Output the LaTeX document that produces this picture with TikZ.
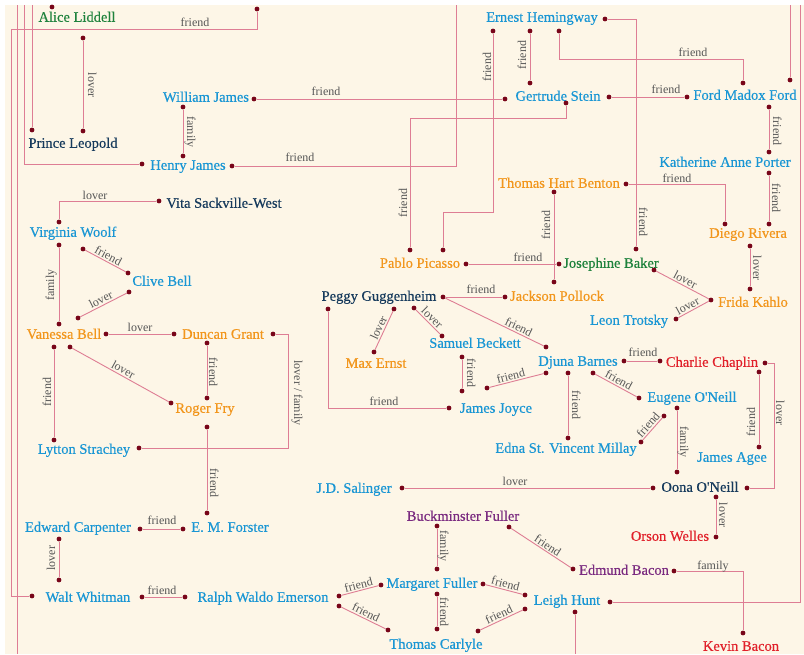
\documentclass[tikz,border=0pt]{standalone}
\usepackage{fontspec}
\setmainfont{Liberation Serif}
\newfontfamily\namefont[FakeBold=0.4]{Liberation Serif}
\definecolor{bgc}{RGB}{253,246,231}
\definecolor{cblue}{RGB}{25,150,212}
\definecolor{corange}{RGB}{242,150,28}
\definecolor{cgreen}{RGB}{30,130,60}
\definecolor{cnavy}{RGB}{22,58,92}
\definecolor{cred}{RGB}{225,32,42}
\definecolor{cpurple}{RGB}{122,42,128}
\definecolor{linec}{RGB}{222,125,148}
\definecolor{dotc}{RGB}{120,5,25}
\definecolor{lblc}{RGB}{85,85,85}
\begin{document}
\begin{tikzpicture}[x=1pt,y=-1pt,
  nm/.style={inner sep=0pt, font=\namefont\fontsize{14.5}{15}\selectfont, text height=9.5pt, text depth=0pt},
  nblue/.style={nm, text=cblue},
  norange/.style={nm, text=corange},
  ngreen/.style={nm, text=cgreen},
  nnavy/.style={nm, text=cnavy},
  nred/.style={nm, text=cred},
  npurple/.style={nm, text=cpurple},
  dt/.style={circle, fill=dotc, inner sep=0pt, minimum size=4.8pt},
  link/.style={draw=linec, line width=0.9pt},
  lbl/.style={inner sep=0pt, text=lblc, font=\fontsize{12}{12}\selectfont, text height=8pt, text depth=0pt},
  lu/.style={lbl, rotate=90},
  ld/.style={lbl, rotate=-90},
  sl/.style={lbl, sloped, above=1.5pt},
]
\useasboundingbox (0,0) rectangle (804,654);
\fill[white] (0,0) rectangle (804,654);
\fill[bgc] (5,5) rectangle (804,654);

% people
\node[ngreen] (alice) at (77,17) {Alice Liddell};
\node[nnavy] (leopold) at (73,143) {Prince Leopold};
\node[nblue] (wjames) at (206,97) {William James};
\node[nblue] (hjames) at (188,165) {Henry James};
\node[nblue] (heming) at (542,17) {Ernest Hemingway};
\node[nblue] (stein) at (558,96) {Gertrude Stein};
\node[nblue] (ford) at (745,95) {Ford Madox Ford};
\node[nblue] (porter) at (725,162) {Katherine Anne Porter};
\node[norange] (benton) at (559,183) {Thomas Hart Benton};
\node[norange] (rivera) at (748,233) {Diego Rivera};
\node[norange] (picasso) at (420,263) {Pablo Picasso};
\node[ngreen] (baker) at (611,263) {Josephine Baker};
\node[norange] (kahlo) at (753,302) {Frida Kahlo};
\node[nblue] (trotsky) at (629,320) {Leon Trotsky};
\node[nnavy] (peggy) at (379,296) {Peggy Guggenheim};
\node[norange] (pollock) at (557,296) {Jackson Pollock};
\node[norange] (ernst) at (376,363) {Max Ernst};
\node[nblue] (beckett) at (475,343) {Samuel Beckett};
\node[nblue] (joyce) at (496,408) {James Joyce};
\node[nblue] (barnes) at (578,361) {Djuna Barnes};
\node[nred] (chaplin) at (712,362) {Charlie Chaplin};
\node[nblue] (eugene) at (692,397) {Eugene O'Neill};
\node[nblue] (millay) at (566,448) {Edna St. Vincent Millay};
\node[nblue] (agee) at (732,457) {James Agee};
\node[nblue] (salinger) at (354,488) {J.D. Salinger};
\node[nnavy] (oona) at (700,487) {Oona O'Neill};
\node[nred] (welles) at (670,536) {Orson Welles};
\node[npurple] (bucky) at (463,516) {Buckminster Fuller};
\node[npurple] (edmund) at (624,570) {Edmund Bacon};
\node[nred] (kevin) at (741,646) {Kevin Bacon};
\node[nblue] (margaret) at (432,583) {Margaret Fuller};
\node[nblue] (hunt) at (567,600) {Leigh Hunt};
\node[nblue] (carlyle) at (436,644) {Thomas Carlyle};
\node[nblue] (emerson) at (263,597) {Ralph Waldo Emerson};
\node[nblue] (whitman) at (88,597) {Walt Whitman};
\node[nblue] (carpenter) at (78,527) {Edward Carpenter};
\node[nblue] (forster) at (230,527) {E. M. Forster};
\node[nblue] (strachey) at (84,449) {Lytton Strachey};
\node[norange] (fry) at (205,408) {Roger Fry};
\node[norange] (grant) at (223,334) {Duncan Grant};
\node[norange] (vanessa) at (64,334) {Vanessa Bell};
\node[nblue] (woolf) at (73,232) {Virginia Woolf};
\node[nblue] (clive) at (162,281) {Clive Bell};
\node[nnavy] (vita) at (224,203) {Vita Sackville-West};

% dots
\foreach \n/\x/\y in {t1/257/9, al-t/52/7, al-b/83/38, pl-t/83/131, pl-l/32/130,
  wj-r/254/99, wj-b/183/107, hj-t/183/156, hj-l/142/164, hj-r/232/166,
  eh-l/493/31, eh-b/530/31, eh-b2/559/31, eh-r/605/19, gs-t/530/83, gs-l/505/99,
  gs-r/609/97, gs-b/566/103, fmf-t/743/83, fmf-tr/790/80, fmf-l/687/97, fmf-b/769/107,
  kap-t/769/152, kap-b/769/173, thb-r/626/184, thb-b/554/192, dr-tl/725/224, dr-tr/769/224,
  dr-b/750/246, pp-t1/410/250, pp-t2/443/250, pp-r/466/264, jb-l/559/264, jb-t/636/249,
  jb-b/654/270, fk-t/750/289, fk-l/711/300, lt-r/676/319, pg-r/443/297, pg-bl/328/309,
  pg-b1/394/309, pg-b2/414/308, jp-t/554/282, jp-l/505/297, me-t/374/352, sb-t/442/336,
  sb-b/462/357, jj-t/462/391, jj-l/449/408, jj-r/487/388, db-t/546/347, db-bl/546/373,
  db-b/568/373, db-r/624/361, db-br/593/373, cc-l/660/361, cc-r/765/363, cc-b/759/372,
  eo-l/639/398, eo-bl/664/416, eo-b/677/408, em-t/568/438, em-r/641/442, ja-t/759/447,
  jds-r/402/488, oo-l/653/488, oo-r/747/488, oo-t/677/472, oo-b/716/497, ow-r/716/537,
  bf-b1/437/526, bf-b2/509/527, eb-l/573/569, eb-r/674/571, kb-t/743/633,
  mf-l/381/585, mf-r/483/584, mf-t/437/569, mf-b/437/594, lh-l/525/595, lh-bl/525/609,
  lh-r/610/602, lh-b/575/612, tc-t/437/629, tc-l/388/630, tc-r/478/631,
  rwe-l/185/597, rwe-r1/339/596, rwe-r2/339/606, ww-l/32/596, ww-r/142/597, ww-t/59/580,
  ec-b/59/539, ec-r/140/529, emf-l/183/529, emf-t/207/513, rf-t/207/398, rf-l/171/403,
  rf-b/207/427, dg-l/174/334, dg-r/273/334, dg-b/207/343, vb-t/59/324, vb-r/106/334,
  vb-b/54/347, vb-br/70/347, vb-tr/78/318, ls-t/54/440, ls-r/139/448, vw-t/59/222,
  vw-b/59/245, vw-br/83/249, cb-tl/128/273, cb-l/129/292, vsw-l/159/201}
  \node[dt] (\n) at (\x,\y) {};

% edge coordinates
\coordinate (e17t) at (17,5);
\coordinate (e17b) at (17,654);
\coordinate (e24) at (24,5);
\coordinate (e32) at (32,5);
\coordinate (e456) at (456,5);
\coordinate (e790) at (790,5);
\coordinate (e800) at (800,5);
\coordinate (e575) at (575,654);

% elbow and edge connectors
\draw[link] (t1) -- (257,29) -- (11,29) -- (11,596) -- (ww-l);
\node[lbl] at (195,22) {friend};
\draw[link] (e17t) -- (e17b);
\draw[link] (e24) |- (hj-l);
\draw[link] (e32) -- (pl-l);
\draw[link] (hj-r) -| (e456);
\node[lbl] at (300,157) {friend};
\draw[link] (eh-l) -- (493,212) -- (443,212) -- (pp-t2);
\node[lu] at (487,67) {friend};
\draw[link] (eh-b2) -- (559,59) -- (743,59) -- (fmf-t);
\node[lbl] at (693,52) {friend};
\draw[link] (eh-r) -| (jb-t);
\node[ld] at (643,222) {friend};
\draw[link] (gs-b) -- (566,118) -- (410,118) -- (pp-t1);
\node[lu] at (403,203) {friend};
\draw[link] (fmf-tr) -- (e790);
\draw[link] (lh-r) -| (e800);
\draw[link] (thb-r) -| (dr-tl);
\node[lbl] at (677,178) {friend};
\draw[link] (pg-bl) |- (jj-l);
\node[lbl] at (384,401) {friend};
\draw[link] (cc-r) -- (774,363) -- (774,488) -- (oo-r);
\node[ld] at (780,413) {lover};
\draw[link] (eb-r) -| (kb-t);
\node[lbl] at (713,565) {family};
\draw[link] (lh-b) -- (e575);
\draw[link] (dg-r) -- (288,334) -- (288,448) -- (ls-r);
\node[ld] at (298,393) {lover / family};
\draw[link] (vsw-l) -| (vw-t);
\node[lbl] at (95,195) {lover};

% straight connectors
\draw[link] (al-b) -- (pl-t);  \node[ld] at (92,85) {lover};
\draw[link] (wj-r) -- (gs-l);  \node[lbl] at (326,91) {friend};
\draw[link] (wj-b) -- (hj-t);  \node[ld] at (191,132) {family};
\draw[link] (eh-b) -- (gs-t);  \node[lu] at (522,55) {friend};
\draw[link] (gs-r) -- (fmf-l); \node[lbl] at (666,89) {friend};
\draw[link] (fmf-b) -- (kap-t);\node[ld] at (777,131) {friend};
\draw[link] (kap-b) -- (dr-tr);\node[ld] at (776,198) {friend};
\draw[link] (thb-b) -- (jp-t); \node[lu] at (546,225) {friend};
\draw[link] (pp-r) -- (jb-l);  \node[lbl] at (528,257) {friend};
\draw[link] (dr-b) -- (fk-t);  \node[ld] at (757,268) {lover};
\draw[link] (pg-r) -- (jp-l);  \node[lbl] at (481,289) {friend};
\draw[link] (sb-b) -- (jj-t);  \node[ld] at (471,373) {friend};
\draw[link] (db-b) -- (em-t);  \node[ld] at (576,405) {friend};
\draw[link] (db-r) -- (cc-l);  \node[lbl] at (643,352) {friend};
\draw[link] (eo-b) -- (oo-t);  \node[ld] at (684,442) {family};
\draw[link] (cc-b) -- (ja-t);  \node[lu] at (751,422) {friend};
\draw[link] (jds-r) -- (oo-l); \node[lbl] at (515,481) {lover};
\draw[link] (oo-b) -- (ow-r);  \node[ld] at (723,515) {lover};
\draw[link] (bf-b1) -- (mf-t); \node[ld] at (444,546) {family};
\draw[link] (mf-b) -- (tc-t);  \node[ld] at (444,612) {friend};
\draw[link] (ww-r) -- (rwe-l); \node[lbl] at (162,590) {friend};
\draw[link] (ec-b) -- (ww-t);  \node[lu] at (51,558) {lover};
\draw[link] (ec-r) -- (emf-l); \node[lbl] at (162,520) {friend};
\draw[link] (rf-b) -- (emf-t); \node[ld] at (214,483) {friend};
\draw[link] (dg-b) -- (rf-t);  \node[ld] at (213,372) {friend};
\draw[link] (vb-r) -- (dg-l);  \node[lbl] at (140,327) {lover};
\draw[link] (vb-b) -- (ls-t);  \node[lu] at (47,392) {friend};
\draw[link] (vw-b) -- (vb-t);  \node[lu] at (50,285) {family};

% diagonal connectors
\draw[link] (jb-b) -- node[sl, midway] {lover} (fk-l);
\draw[link] (lt-r) -- node[sl, pos=0.4] {lover} (fk-l);
\draw[link] (pg-r) -- node[sl, pos=0.72] {friend} (db-t);
\draw[link] (me-t) -- node[sl, midway] {lover} (pg-b1);
\draw[link] (pg-b2) -- node[sl, midway] {lover} (sb-t);
\draw[link] (jj-r) -- node[sl, pos=0.42] {friend} (db-bl);
\draw[link] (db-br) -- node[sl, midway] {friend} (eo-l);
\draw[link] (em-r) -- node[sl, midway] {friend} (eo-bl);
\draw[link] (bf-b2) -- node[sl, pos=0.56] {friend} (eb-l);
\draw[link] (rwe-r1) -- node[sl, midway] {friend} (mf-l);
\draw[link] (rwe-r2) -- node[sl, midway] {friend} (tc-l);
\draw[link] (mf-r) -- node[sl, midway] {friend} (lh-l);
\draw[link] (tc-r) -- node[sl, midway] {friend} (lh-bl);
\draw[link] (vb-br) -- node[sl, midway] {lover} (rf-l);
\draw[link] (vw-br) -- node[sl, midway] {friend} (cb-tl);
\draw[link] (vb-tr) -- node[sl, midway] {lover} (cb-l);
\end{tikzpicture}
\end{document}
